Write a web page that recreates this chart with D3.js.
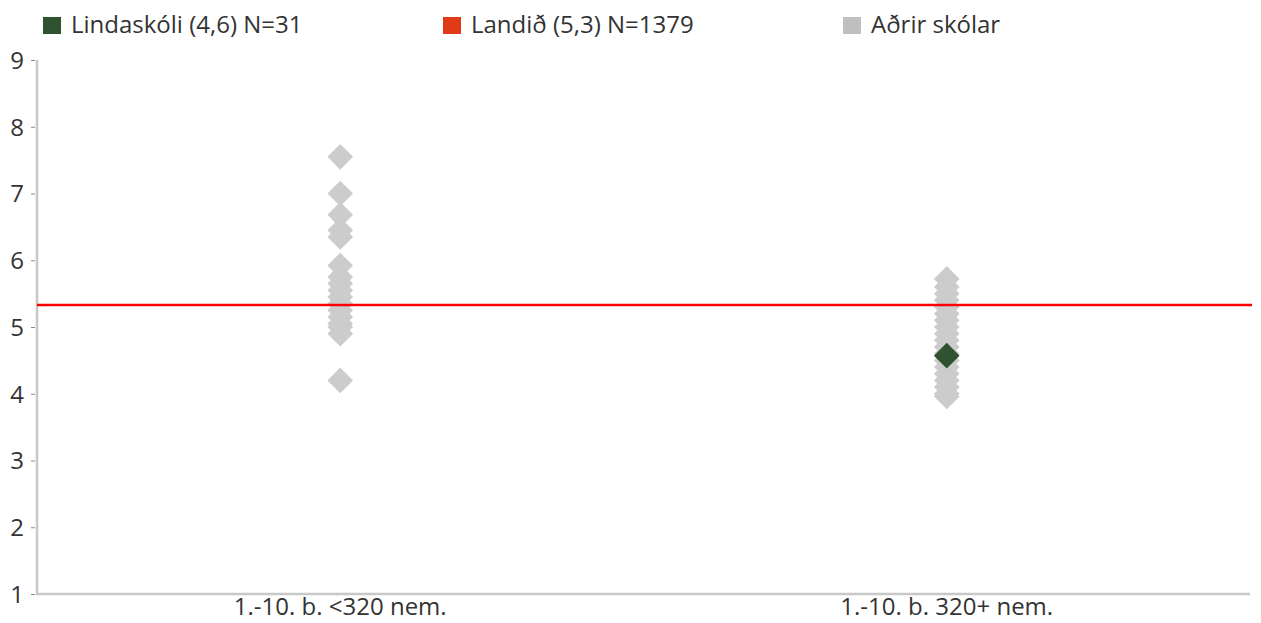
<!DOCTYPE html>
<html><head><meta charset="utf-8">
<script src="https://cdn.jsdelivr.net/npm/d3@7"></script>
<style>body{margin:0;background:#fff;} text{font-family:"Open Sans", sans-serif;}</style>
</head><body><svg id="c" width="1261" height="623"></svg>
<script>
const categories = ["1.-10. b. <320 nem.", "1.-10. b. 320+ nem."];
const otherSmall = [7.55, 7.0, 6.68, 6.45, 6.35, 5.92, 5.75, 5.65, 5.55, 5.45, 5.35, 5.25, 5.15, 5.05, 5.0, 4.9, 4.2];
const otherLarge = [5.72, 5.6, 5.5, 5.4, 5.3, 5.2, 5.1, 5.0, 4.9, 4.8, 4.7, 4.6, 4.5, 4.4, 4.3, 4.2, 4.1, 4.0, 3.96];
const schoolValue = [{cat: "1.-10. b. 320+ nem.", value: 4.57}];
const nationalValue = 5.33;
const yTicks = [1,2,3,4,5,6,7,8,9];
const legendLabels = ["Lindaskóli (4,6) N=31", "Landið (5,3) N=1379", "Aðrir skólar"];
const legendColors = ["#2f5330", "#e03a16", "#bfbfbf"];

const svg = d3.select("#c");
const x = d3.scaleBand().domain(categories).range([37, 1250]);
const y = d3.scaleLinear().domain([1, 9]).range([594, 60]);

const yAxis = svg.append("g").attr("transform", "translate(37,0)")
  .call(d3.axisLeft(y).tickValues(yTicks).tickSize(0).tickPadding(13));
yAxis.select(".domain").remove();
yAxis.selectAll("text").attr("font-size", 24).attr("fill", "#333").attr("dy", "0.35em");
yAxis.selectAll(".tick").append("line").attr("x1", -6).attr("x2", -2).attr("stroke", "#888").attr("stroke-width", 1);

const xAxis = svg.append("g").attr("transform", "translate(0,594)")
  .call(d3.axisBottom(x).tickSize(0));
xAxis.select(".domain").remove();
xAxis.selectAll("text").attr("font-size", 24).attr("fill", "#333").attr("dy", null).attr("y", 21);

svg.append("line").attr("x1", 37).attr("x2", 37).attr("y1", y(9)).attr("y2", y(1) + 1)
  .attr("stroke", "#c8c8c8").attr("stroke-width", 2.5);
svg.append("line").attr("x1", 36).attr("x2", 1250).attr("y1", y(1)).attr("y2", y(1))
  .attr("stroke", "#c8c8c8").attr("stroke-width", 2.5);

const diamond = d3.symbol().type(d3.symbolSquare).size(330);
const cx = c => x(c) + x.bandwidth() / 2;

function drawDiamonds(vals, cat, color) {
  svg.append("g").selectAll("path").data(vals).join("path")
    .attr("d", diamond)
    .attr("transform", d => `translate(${cx(cat)},${y(d)}) rotate(45)`)
    .attr("fill", color);
}
drawDiamonds(otherSmall, categories[0], "#cccccc");
drawDiamonds(otherLarge, categories[1], "#cccccc");

svg.append("line").attr("x1", 37).attr("x2", 1252).attr("y1", y(nationalValue)).attr("y2", y(nationalValue))
  .attr("stroke", "#ff0000").attr("stroke-width", 2.5);

svg.append("g").selectAll("path").data(schoolValue).join("path")
  .attr("d", diamond)
  .attr("transform", d => `translate(${cx(d.cat)},${y(d.value)}) rotate(45)`)
  .attr("fill", "#2f5330");

const lx = [43, 443, 843];
const lg = svg.append("g").selectAll("g").data(legendLabels).join("g")
  .attr("transform", (d, i) => `translate(${lx[i]},0)`);
lg.append("rect").attr("x", 0).attr("y", 17).attr("width", 18).attr("height", 17)
  .attr("fill", (d, i) => legendColors[i]);
lg.append("text").attr("x", 28).attr("y", 33).attr("font-size", 24).attr("fill", "#333").text(d => d);
</script></body></html>
